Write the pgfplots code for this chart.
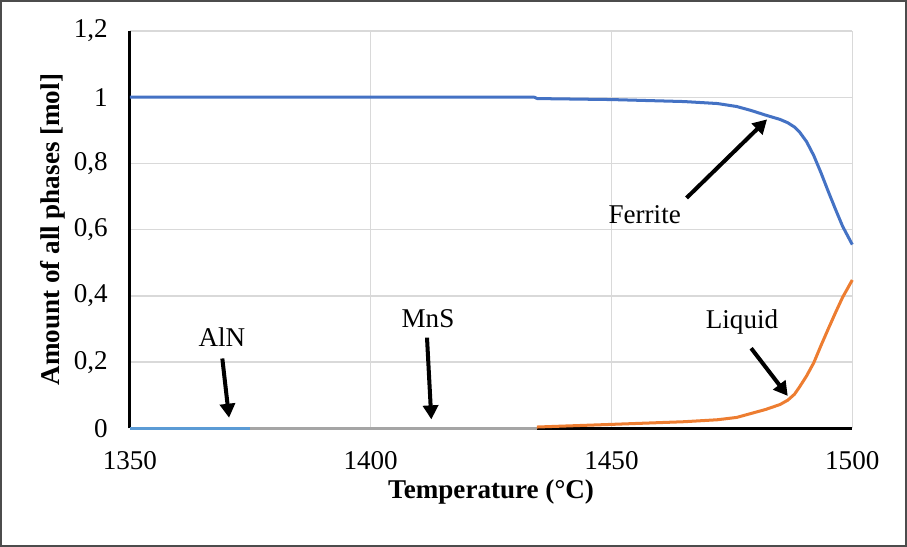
\documentclass[border=0pt]{standalone}
\usepackage{fontspec}
\setmainfont{Liberation Serif}
\usepackage{pgfplots}
\pgfplotsset{compat=1.18}
\usetikzlibrary{arrows.meta}

\definecolor{ferrite}{HTML}{4472C4}
\definecolor{liquid}{HTML}{ED7D31}
\definecolor{aln}{HTML}{5B9BD5}
\definecolor{mns}{HTML}{A5A5A5}
\definecolor{gridgray}{HTML}{D9D9D9}

\begin{document}
\begin{tikzpicture}
\begin{axis}[
    scale only axis,
    width=360pt, height=198pt,
    xmin=1350, xmax=1500,
    ymin=0, ymax=1.2,
    xtick={1350,1400,1450,1500},
    ytick={0,0.2,0.4,0.6,0.8,1,1.2},
    /pgf/number format/use comma,
    /pgf/number format/1000 sep={},
    /pgf/number format/assume math mode=true,
    axis lines*=left,
    axis line style={line width=1.4pt, black, -},
    major tick length=0pt,
    grid=major,
    major grid style={gridgray, line width=0.7pt},
    tick label style={font=\fontsize{13.5}{15}\selectfont},
    xticklabel style={anchor=center, yshift=-16pt},
    yticklabel style={anchor=east, xshift=-7.5pt},
    xlabel={Temperature (°C)},
    ylabel={Amount of all phases [mol]},
    label style={font=\fontsize{13.5}{16}\selectfont\bfseries},
    xlabel style={at={(axis description cs:0.5,-0.159)}, anchor=center},
    ylabel style={at={(axis description cs:-0.106,0.5)}, anchor=center},
    clip=false,
]
% AlN and MnS on the zero line
\addplot[aln, line width=1.6pt] coordinates {(1350,0) (1375,0)};
\addplot[mns, line width=1.6pt] coordinates {(1375,0) (1434.5,0)};
% Ferrite
\addplot[ferrite, line width=1.5pt, line join=round] coordinates {
(1350,1.0) (1434,1.0) (1434.6,0.996) (1450,0.993) (1465,0.987) (1472,0.981)
(1476,0.972) (1479,0.960) (1482,0.946) (1485,0.933) (1486.6,0.923)
(1488,0.910) (1489,0.896) (1490.5,0.866) (1492,0.824) (1493.5,0.772)
(1495,0.716) (1496.5,0.662) (1498,0.610) (1500,0.555)};
% Liquid
\addplot[liquid, line width=1.5pt, line join=round] coordinates {
(1434.5,0.004) (1450,0.012) (1465,0.020) (1472,0.026) (1476,0.033)
(1479,0.045) (1482,0.057) (1485,0.072) (1486.6,0.085) (1488,0.103)
(1489,0.124) (1490.5,0.158) (1492,0.198) (1493.5,0.250) (1495,0.300)
(1496.5,0.349) (1498,0.396) (1500,0.448)};

% annotations
\begin{scope}[font=\fontsize{13.5}{16}\selectfont]
\node at (axis cs:1369.1,0.277) {AlN};
\node at (axis cs:1411.9,0.332) {MnS};
\node at (axis cs:1456.9,0.645) {Ferrite};
\node at (axis cs:1477.1,0.322) {Liquid};
\end{scope}
\begin{scope}[line width=2pt, -{Triangle[length=7pt,width=7.5pt]}]
\draw (axis cs:1369.2,0.211) -- (axis cs:1370.6,0.032);
\draw (axis cs:1411.7,0.274) -- (axis cs:1412.6,0.027);
\draw (axis cs:1465.6,0.696) -- (axis cs:1482.3,0.933);
\draw (axis cs:1479.0,0.242) -- (axis cs:1486.6,0.098);
\end{scope}

% outer chart frame
\draw[black!70, line width=0.9pt]
  (rel axis cs:-0.1785,-0.2955) rectangle (rel axis cs:1.0745,1.0758);
\end{axis}
\end{tikzpicture}
\end{document}
